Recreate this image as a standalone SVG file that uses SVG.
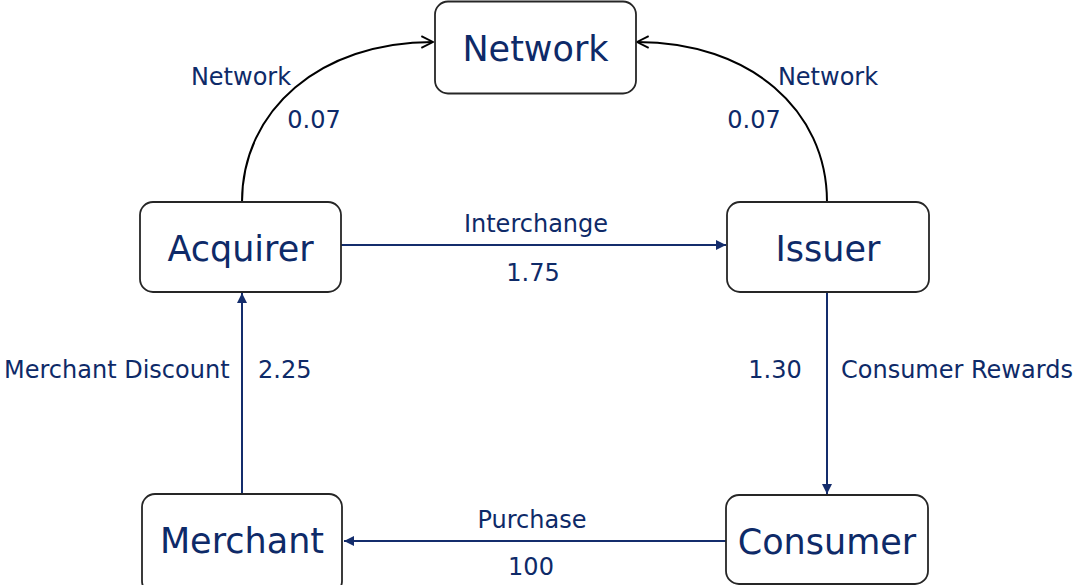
<svg xmlns="http://www.w3.org/2000/svg" width="1073" height="585" viewBox="0 0 1073 585">
<style>
.box{fill:#fff;stroke:#262626;stroke-width:1.8}
.big{font-family:"DejaVu Sans",Verdana,sans-serif;font-size:35px;fill:#0e2a68;text-anchor:middle}
.lbl{font-family:"DejaVu Sans",Verdana,sans-serif;font-size:24px;fill:#0e2a68}
.flow{fill:none;stroke:#142d6c;stroke-width:2}
.curve{fill:none;stroke:#000;stroke-width:2}
</style>
<defs>
<marker id="tri" viewBox="0 0 10 10" refX="10" refY="5" markerWidth="5" markerHeight="5" orient="auto" markerUnits="strokeWidth">
<path d="M0,0 L10,5 L0,10 z" fill="#142d6c"/>
</marker>
<marker id="chev" viewBox="0 0 12 12" refX="11" refY="6" markerWidth="7" markerHeight="7" orient="auto" markerUnits="strokeWidth">
<path d="M1,1 L11,6 L1,11" fill="none" stroke="#000" stroke-width="1.6"/>
</marker>
</defs>
<g id="connectors">
<path class="curve" d="M242,202 C242,110 320,42 433,42" marker-end="url(#chev)"/>
<path class="curve" d="M827,202 C827,110 750,42 637,42" marker-end="url(#chev)"/>
<line class="flow" x1="341" y1="245" x2="726" y2="245" marker-end="url(#tri)"/>
<line class="flow" x1="827" y1="293" x2="827" y2="494" marker-end="url(#tri)"/>
<line class="flow" x1="726" y1="541" x2="344" y2="541" marker-end="url(#tri)"/>
<line class="flow" x1="242" y1="494" x2="242" y2="293" marker-end="url(#tri)"/>
<text class="lbl" x="241" y="85" text-anchor="middle">Network</text>
<text class="lbl" x="314" y="128" text-anchor="middle">0.07</text>
<text class="lbl" x="828" y="85" text-anchor="middle">Network</text>
<text class="lbl" x="754" y="128" text-anchor="middle">0.07</text>
<text class="lbl" x="536" y="232" text-anchor="middle">Interchange</text>
<text class="lbl" x="533" y="281" text-anchor="middle">1.75</text>
<text class="lbl" x="4" y="378">Merchant Discount</text>
<text class="lbl" x="258" y="378">2.25</text>
<text class="lbl" x="775" y="378" text-anchor="middle">1.30</text>
<text class="lbl" x="841" y="378">Consumer Rewards</text>
<text class="lbl" x="532" y="528" text-anchor="middle">Purchase</text>
<text class="lbl" x="531" y="575" text-anchor="middle">100</text>
</g>
<g id="network">
<rect class="box" x="435" y="1.5" width="201" height="92" rx="13"/>
<text class="big" x="535.5" y="61">Network</text>
</g>
<g id="acquirer">
<rect class="box" x="140" y="202" width="201" height="90" rx="13"/>
<text class="big" x="240.5" y="261">Acquirer</text>
</g>
<g id="issuer">
<rect class="box" x="727" y="202" width="202" height="90" rx="13"/>
<text class="big" x="828" y="261">Issuer</text>
</g>
<g id="merchant">
<rect class="box" x="142" y="494" width="200" height="100" rx="13"/>
<text class="big" x="242" y="553">Merchant</text>
</g>
<g id="consumer">
<rect class="box" x="726" y="495" width="202" height="89" rx="13"/>
<text class="big" x="827" y="554">Consumer</text>
</g>
</svg>
